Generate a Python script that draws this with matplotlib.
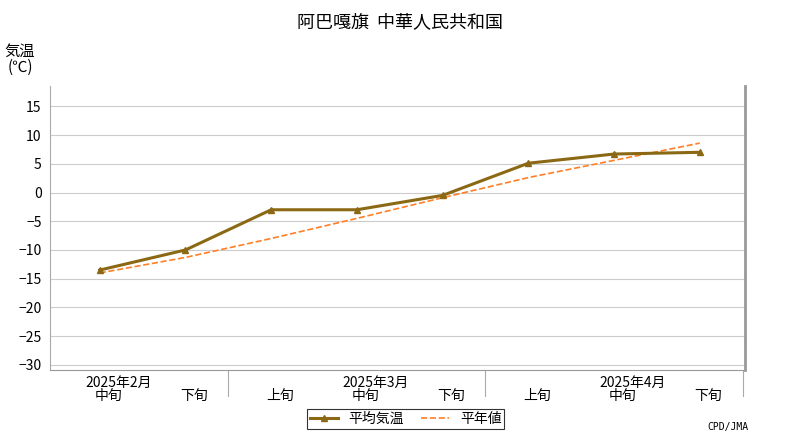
import matplotlib
matplotlib.use("Agg")
import matplotlib.pyplot as plt

plt.rcParams['font.family'] = ['Noto Sans CJK JP', 'DejaVu Sans']

dekads = ["中旬", "下旬", "上旬", "中旬", "下旬", "上旬", "中旬", "下旬"]
months = ["2025年2月", "2025年3月", "2025年4月"]
month_pos = [0, 3, 6]
mean_temp = [-13.5, -10.0, -3.0, -3.0, -0.5, 5.1, 6.7, 7.0]
normal = [-14.0, -11.3, -8.0, -4.5, -0.9, 2.6, 5.6, 8.6]
yticks = [15, 10, 5, 0, -5, -10, -15, -20, -25, -30]

fig = plt.figure(figsize=(8, 4.4), dpi=100)
ax = fig.add_axes([0.0625, 0.159, 0.869, 0.645])
x = list(range(len(mean_temp)))
l2, = ax.plot(x, normal, '--', color='#FF7F27', lw=1.2, label='平年値', zorder=2)
l1, = ax.plot(x, mean_temp, '-', color='#8B6914', lw=2.2, marker='^', ms=5, label='平均気温', zorder=3)
ax.set_xlim(-0.58, 7.53)
ax.set_ylim(-30.9, 18.5)
ax.set_yticks(yticks)
ax.set_yticklabels([str(v).replace('-', '−') for v in yticks], fontsize=10)
ax.grid(axis='y', color='#CCCCCC', lw=0.8)
ax.set_axisbelow(True)
ax.set_xticks([])
ax.spines['top'].set_visible(False)
ax.spines['left'].set_color('#AAAAAA')
ax.spines['right'].set_color('#999999')
ax.spines['right'].set_linewidth(2)
ax.spines['bottom'].set_color('#999999')
ax.tick_params(axis='y', length=0, pad=6)

for i, d in enumerate(dekads):
    ax.text(i + 0.1, -0.092, d, transform=ax.get_xaxis_transform(), ha='center', va='center', fontsize=10)
for p, m in zip(month_pos, months):
    ax.text(p + 0.22, -0.045, m, transform=ax.get_xaxis_transform(), ha='center', va='center', fontsize=10)
for b in [1.5, 4.5, 7.5]:
    ax.plot([b, b], [0, -0.09], transform=ax.get_xaxis_transform(), color='#AAAAAA', lw=0.8, clip_on=False)

fig.text(0.5, 0.95, '阿巴嘎旗  中華人民共和国', ha='center', va='center', fontsize=13)
fig.text(0.025, 0.865, '気温\n(℃)', ha='center', va='center', fontsize=11, linespacing=0.9)
leg = fig.legend([l1, l2], ['平均気温', '平年値'], loc='center', bbox_to_anchor=(0.507, 0.048), ncol=2,
                 fontsize=10, frameon=True, fancybox=False, edgecolor='black', handlelength=2,
                 borderpad=0.2, columnspacing=1.2)
leg.get_frame().set_linewidth(0.8)
fig.text(0.935, 0.03, 'CPD/JMA', ha='right', va='center', fontsize=7, family='DejaVu Sans Mono')
fig.savefig('out.png', dpi=100)
